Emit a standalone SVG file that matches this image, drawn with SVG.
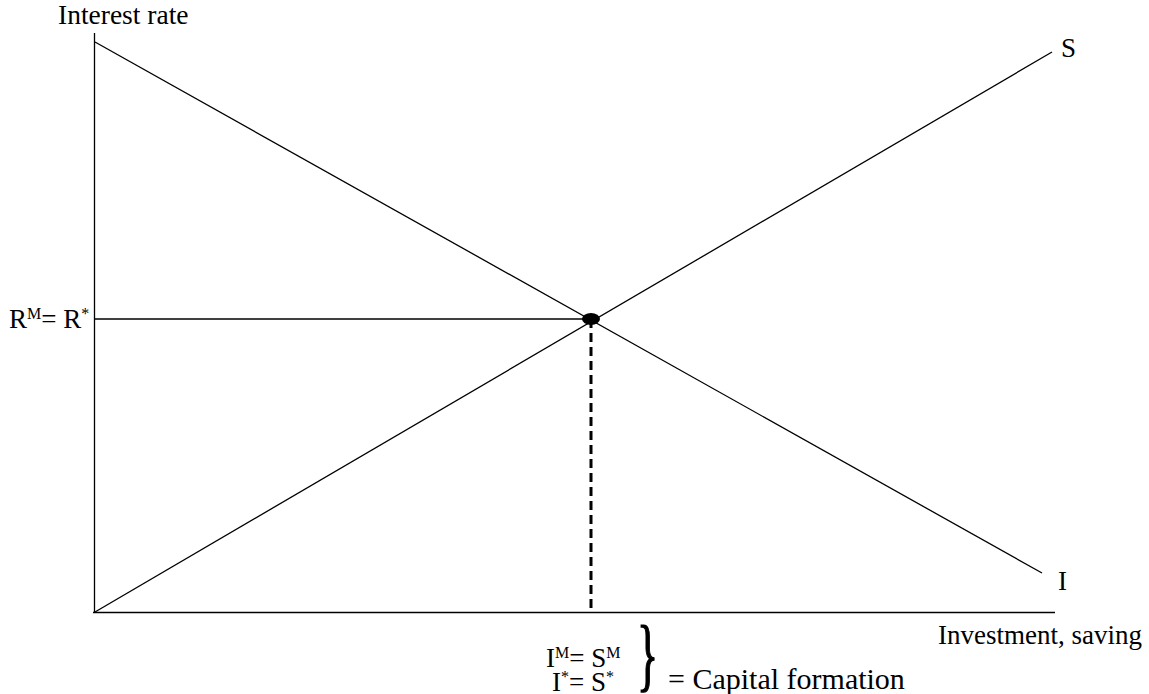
<svg xmlns="http://www.w3.org/2000/svg" width="1149" height="694" viewBox="0 0 1149 694">
<style>
.t{font-family:"Liberation Serif","Times New Roman",serif;font-size:27px;fill:#000}
.sup{font-size:16px}
.ln{stroke:#000;stroke-width:1.3;fill:none}
</style>
<rect width="1149" height="694" fill="#fff"/>
<g id="connectors">
<line class="ln" x1="94.5" y1="33" x2="94.5" y2="613"/>
<line class="ln" x1="93" y1="612.5" x2="1055" y2="612.5"/>
<line class="ln" x1="95" y1="42" x2="1042" y2="573"/>
<line class="ln" x1="95" y1="612" x2="1052" y2="52"/>
<line class="ln" x1="95" y1="319" x2="591" y2="319"/>
<line x1="591" y1="319" x2="591" y2="612" stroke="#000" stroke-width="3" stroke-dasharray="9,5"/>
</g>
<g id="equilibrium"><ellipse cx="591" cy="319" rx="9" ry="6" fill="#000"/></g>
<g id="axis-y-label"><text class="t" x="58" y="24" style="font-size:27.5px">Interest rate</text></g>
<g id="axis-x-label"><text class="t" x="938" y="644">Investment, saving</text></g>
<g id="label-S"><text class="t" x="1061" y="57">S</text></g>
<g id="label-I"><text class="t" x="1058" y="590">I</text></g>
<g id="label-R"><text class="t" x="9" y="328">R<tspan class="sup" dy="-9">M</tspan><tspan dy="9">= R</tspan><tspan class="sup" dy="-9">*</tspan></text></g>
<g id="label-eq">
<text class="t" x="546" y="667">I<tspan class="sup" dy="-9">M</tspan><tspan dy="9">= S</tspan><tspan class="sup" dy="-9">M</tspan></text>
<text class="t" x="552" y="691">I<tspan class="sup" dy="-9">*</tspan><tspan dy="9">= S</tspan><tspan class="sup" dy="-9">*</tspan></text>
<text class="t" transform="translate(637,681) scale(0.55,1)" style="font-size:80px;stroke:#000;stroke-width:1.5">}</text>
<text class="t" x="668" y="689" style="font-size:30px">= Capital formation</text>
</g>
</svg>
